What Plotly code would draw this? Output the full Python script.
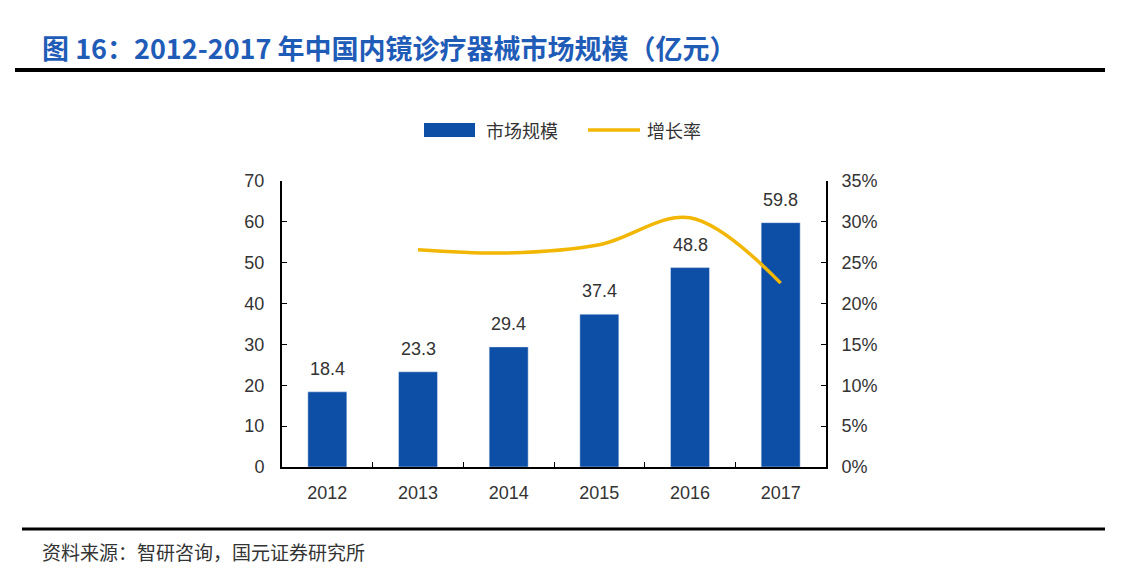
import plotly.graph_objects as go

years = ["2012", "2013", "2014", "2015", "2016", "2017"]
market_size = [18.4, 23.3, 29.4, 37.4, 48.8, 59.8]
growth_years = ["2013", "2014", "2015", "2016", "2017"]
growth_rate = [0.266, 0.262, 0.272, 0.305, 0.225]

title_text = "图 16：2012-2017 年中国内镜诊疗器械市场规模（亿元）"
source_text = "资料来源：智研咨询，国元证券研究所"
legend_names = ["市场规模", "增长率"]

BAR_COLOR = "#0D4EA6"
LINE_COLOR = "#F2B705"

W, H = 1130, 574
OFF = 8  # page body margin
L, R, T, B = 282, 826, 181, 467


def px(x):
    return (x - L) / (R - L)


def py(y):
    return (B - y) / (B - T)


fig = go.Figure()
fig.add_trace(go.Bar(
    x=years, y=market_size, name=legend_names[0],
    marker_color=BAR_COLOR,
))
fig.add_trace(go.Scatter(
    x=growth_years, y=growth_rate, name=legend_names[1], yaxis="y2",
    mode="lines", line=dict(color=LINE_COLOR, width=3.5, shape="spline", smoothing=1.0),
))

# value labels above the bars (x given as category index)
labels = [dict(x=i, y=v, xref="x", yref="y", text=f"{v:.1f}", showarrow=False,
               yanchor="bottom", yshift=11, font=dict(size=18, color="#333333"))
          for i, v in enumerate(market_size)]

fig.update_layout(
    width=W, height=H,
    margin=dict(l=L - OFF, r=W + OFF - R, t=T - OFF, b=H + OFF - B),
    paper_bgcolor="white", plot_bgcolor="white",
    font=dict(family="Liberation Sans, Arial, sans-serif", size=16, color="#333333"),
    bargap=0.57,
    showlegend=False,
    xaxis=dict(type="category", range=[-0.5, len(years) - 0.5],
               showline=True, linecolor="black", linewidth=2,
               ticks="inside", tickson="boundaries", ticklen=5, tickcolor="black",
               showgrid=False, tickfont=dict(size=18), ticklabelstandoff=8),
    yaxis=dict(range=[0, 70], dtick=10, showline=True, linecolor="black", linewidth=2,
               ticks="inside", ticklen=5, tickcolor="black", showgrid=False, zeroline=False,
               tickfont=dict(size=18), ticklabelstandoff=12),
    yaxis2=dict(range=[0, 0.35], dtick=0.05, tickformat=".0%", overlaying="y", side="right",
                showline=True, linecolor="black", linewidth=2,
                ticks="inside", ticklen=5, tickcolor="black", showgrid=False, zeroline=False,
                tickfont=dict(size=18), ticklabelstandoff=10),
    shapes=[
        dict(type="line", xref="paper", yref="paper", x0=px(15), x1=px(1105), y0=py(70), y1=py(70),
             line=dict(color="black", width=4)),
        dict(type="line", xref="paper", yref="paper", x0=px(22), x1=px(1105), y0=py(529), y1=py(529),
             line=dict(color="black", width=3)),
        # legend swatches
        dict(type="rect", xref="paper", yref="paper", x0=px(424), x1=px(475), y0=py(137), y1=py(123),
             fillcolor=BAR_COLOR, line=dict(width=0)),
        dict(type="line", xref="paper", yref="paper", x0=px(588), x1=px(640), y0=py(130), y1=py(130),
             line=dict(color=LINE_COLOR, width=3.5)),
    ],
    annotations=labels + [
        dict(text=title_text, xref="paper", yref="paper", x=px(40), y=py(47),
             xanchor="left", yanchor="middle", showarrow=False,
             font=dict(family="Noto Sans CJK SC", size=27, color="#1F5CB8", weight="bold")),
        dict(text=source_text, xref="paper", yref="paper", x=px(40), y=py(551),
             xanchor="left", yanchor="middle", showarrow=False,
             font=dict(family="Noto Sans CJK SC", size=19, color="#333333")),
        dict(text=legend_names[0], xref="paper", yref="paper", x=px(484), y=py(130),
             xanchor="left", yanchor="middle", showarrow=False,
             font=dict(family="Noto Sans CJK SC", size=18, color="#333333")),
        dict(text=legend_names[1], xref="paper", yref="paper", x=px(645), y=py(130),
             xanchor="left", yanchor="middle", showarrow=False,
             font=dict(family="Noto Sans CJK SC", size=18, color="#333333")),
    ],
)

fig.write_html("out.html")
